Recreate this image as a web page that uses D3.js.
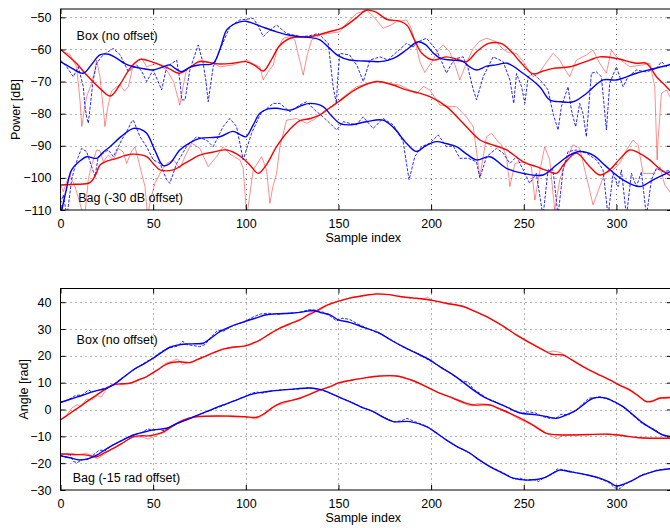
<!DOCTYPE html>
<html>
<head>
<meta charset="utf-8">
<script src="https://cdn.jsdelivr.net/npm/d3@7"></script>
<style>
    body { margin: 0; background: #fff; }
    svg { display: block; font-family: "Liberation Sans", Arial, Helvetica, sans-serif; }
</style>
</head>
<body>
<svg id="Chart"></svg>
<script>
            // x axis ticks are shared by both panels
            let sampleTicks = [0, 50, 100, 150, 200, 250, 300]
            let powerTicks = [-110, -100, -90, -80, -70, -60, -50]
            let angleTicks = [-30, -20, -10, 0, 10, 20, 30, 40]

            // ---- Power [dB], "Box" (no offset) ----
            let powerBoxRed = [[0,-60],[8,-64],[15,-68.5],[22,-72.5],[27,-74.5],[32,-71],[38,-65.5],[43,-63.1],[50,-64],[58,-65.8],[64,-67.4],[70,-65.5],[75,-63.8],[85,-64.5],[93,-64.3],[100,-63.8],[105,-65],[109.5,-66.7],[114,-63],[118,-59],[124,-56.5],[135,-56],[145,-54.5],[152,-53.3],[160,-50],[165,-47.8],[170,-48.3],[176,-50.6],[183,-51.2],[187,-52.5],[191,-57],[195,-61.2],[201,-63.3],[208,-62.3],[214,-63],[219,-63.8],[225,-60.5],[231,-58.1],[238,-58.2],[243,-60.5],[248,-63.8],[255,-67.6],[260,-66.8],[266,-65.9],[275,-65.4],[285.6,-63.3],[291,-62.3],[300,-62.8],[310.8,-64.3],[316.2,-64.3],[321.6,-68.5],[327,-71.6],[330,-73.5]]
            let powerBoxRedRaw = [[0,-60.2],[2.4,-61],[5,-61.5],[8.7,-65.4],[10.5,-75.7],[11.5,-84],[12.5,-80],[14.1,-74.7],[16.8,-70.5],[18.6,-66.4],[19.5,-63.3],[21.3,-68.5],[23,-78],[24,-84],[25.5,-78],[27.5,-73],[29.4,-72],[32.2,-71],[34.5,-73],[36.6,-71.6],[39.3,-64.8],[43.8,-62.8],[46.5,-65.4],[51.9,-64.3],[57.3,-66.4],[61,-70],[64.4,-77.3],[66,-72],[68,-66.4],[75.2,-63.3],[82.4,-64.3],[86,-65.4],[93.2,-64.8],[100.4,-63.3],[104,-64.5],[107.6,-65.4],[109.4,-69.5],[112,-67],[114.8,-64.8],[117,-60],[120.2,-56.5],[123.8,-56],[126.5,-57.1],[128.5,-62],[131,-68],[133,-62],[135.5,-57.1],[140,-55.5],[145,-55],[150.7,-54.5],[155,-51.5],[159.8,-48.8],[165.2,-47.7],[170,-50.5],[174.1,-53.4],[178,-52.5],[181.3,-51.4],[186.7,-50.8],[189,-53],[192.1,-59.2],[194,-64],[196.6,-67.2],[199,-65],[201,-63.3],[204,-60],[206.5,-58.6],[210,-60.7],[213,-65],[215.5,-69.5],[219,-64.3],[222.7,-59.7],[226,-57.5],[229.9,-56.5],[235.3,-57.6],[238.9,-60],[242,-61],[246,-61.2],[250,-64],[255,-68.5],[258,-67.5],[263.1,-63.3],[265.8,-61.2],[269.4,-63.3],[272,-66],[274.8,-68.5],[278.4,-63.3],[283.8,-61.7],[287.4,-60.2],[291,-64.3],[294.6,-67.4],[297.3,-60.2],[300,-62.3],[307.2,-65.4],[314.4,-64.8],[318,-64.3],[320.7,-71.6],[321.6,-88],[322,-94.4],[322.5,-88],[324.3,-73.7],[327,-72.6],[330,-76]]
            let powerBoxBlue = [[0,-63.8],[6,-65.8],[12.3,-67.4],[17,-64.5],[21.3,-61.7],[26,-61.5],[30.4,-62.8],[35,-64.5],[39.3,-65.4],[45,-66],[50,-66.4],[55,-65.5],[59,-64.8],[62,-66],[65.4,-66.9],[70,-65.5],[75.2,-64.8],[82.4,-64.3],[86,-60],[89.6,-54],[93,-52.3],[96.8,-51.4],[100,-51.2],[104,-51.9],[110,-53.2],[116.6,-54.5],[123,-55.5],[129.2,-56],[135,-56.3],[140,-57],[145,-59.5],[150,-62],[156,-63.3],[164,-63.6],[172.4,-63.8],[177,-63.3],[181.3,-62.3],[187,-60],[193,-57.6],[197,-58.5],[201,-61],[205,-62.8],[211,-63.3],[217.3,-63.8],[221,-65.5],[224.5,-66.4],[230,-65.2],[235,-64.8],[241,-64.3],[249.6,-67.4],[258.6,-71.6],[264,-75.7],[270,-76.3],[276.6,-76.3],[283.8,-73.7],[292.8,-69.5],[300,-69.5],[310.8,-67.4],[320,-66],[330,-64.6]]
            let powerBoxBlueRaw = [[0,-63.3],[3.3,-65.4],[6.9,-68.5],[9.6,-65.4],[12.3,-71.6],[13.2,-77.8],[14.1,-81],[15,-83],[16,-78],[17.5,-70],[19.5,-64.3],[23,-61.7],[28.5,-59.7],[32.2,-61.7],[36.6,-66.9],[41.1,-64.8],[44,-67],[46.5,-70],[50,-66.4],[54.6,-72.6],[57.3,-65.4],[62.7,-63.3],[64.5,-70],[65.4,-75.7],[67.2,-75.7],[69.8,-66.4],[74.3,-58.6],[77,-64.3],[78.5,-70],[79.7,-76.3],[82.4,-65.4],[86,-60.2],[91.4,-52.9],[96.8,-50.8],[100,-50.6],[104,-50.3],[107,-53],[109.4,-56],[112,-54.5],[116.6,-52.4],[122,-55],[129.2,-56],[134,-55.8],[139,-55],[144.5,-58.1],[147.1,-71.6],[148.9,-76.8],[149.5,-70],[150.7,-61.2],[156,-61.7],[160,-65],[163.4,-70],[167,-63.3],[172.4,-62.3],[176.9,-63.3],[179.6,-61.7],[183,-60],[186.7,-58.1],[190.3,-59.2],[193.5,-57.5],[197.5,-56.5],[202.9,-60.2],[205.5,-63.5],[208.3,-67.4],[211,-64.5],[213.7,-62.8],[217.3,-62.3],[220,-66],[222.5,-72],[224.5,-75.7],[228.1,-68.5],[233.5,-62.3],[238.9,-63.8],[242.5,-69.5],[244.6,-76.8],[246.1,-67.5],[248.8,-71.6],[250.6,-76.8],[252.4,-68.5],[255,-67.4],[260.4,-70.5],[263.1,-72.6],[265.8,-79.9],[268.5,-85.1],[270.3,-77.8],[273.9,-71.6],[275.7,-78.9],[278,-84.1],[280.2,-76.8],[282,-80],[283.8,-87.2],[286.5,-67.4],[289.2,-67],[291.9,-68.5],[294.6,-85.1],[296.4,-70.5],[300,-65.4],[303.6,-71.6],[306.3,-68.5],[310.8,-66.4],[316.2,-67],[321.6,-65.9],[324.3,-63.8],[327,-65.4],[330,-64]]

            // ---- Power [dB], "Bag" (-30 dB offset) ----
            let powerBagRed = [[0,-102.2],[8,-102],[15.9,-101.5],[19,-99],[21.3,-96],[25,-94.8],[30.4,-93.9],[35,-93],[39.3,-92.6],[46.5,-93.4],[50,-95.5],[53.7,-97.5],[60.9,-97.5],[67,-95.5],[75.2,-92.9],[82,-92],[89.6,-91.3],[95,-92.5],[99.5,-94.4],[103,-96.5],[106.7,-98.6],[111,-96],[116.6,-90.3],[122,-86],[129.2,-82.2],[135,-81.5],[140,-80.4],[145,-78.3],[150,-76.3],[160,-72.2],[170.5,-70],[179,-71],[186.7,-72.6],[193,-73.5],[199.3,-74.7],[208.3,-77.8],[217.3,-83],[226.3,-88.2],[232,-89.5],[240.7,-91.3],[249.7,-95],[256.8,-96.5],[263,-97.8],[267.6,-98.6],[272,-95.5],[278.4,-92.3],[285.6,-96.5],[291,-99.1],[296.4,-97.5],[302,-94],[307.2,-91.3],[312,-92.2],[318,-94.4],[323,-97],[330,-99.6]]
            let powerBagRedRaw = [[0,-102],[1.5,-104.3],[3.5,-101],[5.1,-99.1],[7.8,-102.7],[10.5,-107.9],[12.3,-112],[13.5,-109.5],[15,-100.6],[16.8,-96],[19.5,-91.3],[21.3,-91.6],[23.1,-95],[25.8,-92.9],[28.5,-94.4],[31.2,-90.8],[33.9,-92],[35.7,-95.5],[38.3,-91.8],[40.2,-90.3],[42.9,-96.5],[45.6,-102.7],[47,-112],[48.5,-107],[51,-101.7],[53.7,-98.6],[57.3,-95.5],[60.9,-94.4],[64.4,-97],[67.5,-93],[70.8,-89.2],[75.2,-90.8],[79.7,-96.5],[84.2,-93.4],[87.8,-90.3],[91.4,-92.6],[96.8,-94.4],[98.6,-97],[100.5,-112],[102,-106],[104,-97.5],[108.5,-93.4],[111.2,-97.5],[113,-107.9],[114.5,-103],[116.6,-98.6],[118.4,-90.3],[122,-82],[127.4,-81.5],[132.8,-83],[137.3,-81.7],[141.7,-79.4],[149,-76.8],[150.7,-75.7],[159.8,-71.6],[170.5,-70],[176,-70.5],[183,-71.1],[188,-72.5],[192.1,-73.7],[196,-71.5],[199.3,-72.6],[204.7,-77.3],[210,-77.8],[213.7,-77.8],[219,-81],[222.7,-84],[226.3,-99.6],[229.9,-87.2],[232.6,-86.1],[236.2,-88.8],[238,-89.7],[240.7,-93.4],[242.5,-102.7],[245.2,-95.5],[250.6,-95],[254.1,-96.5],[256,-106.9],[258.6,-98.1],[261.3,-90.3],[264,-94.4],[266.7,-110],[269.4,-100.6],[273,-94.4],[276.6,-89.7],[280.2,-90.8],[283.8,-99.6],[287.4,-108.4],[291,-102.7],[293.7,-98.6],[298.2,-97.5],[301.8,-95.5],[305.4,-91.3],[309,-88.2],[311.7,-89.7],[314.4,-98.6],[319.8,-98.6],[323.4,-96.5],[326.1,-102.2],[330,-105.3]]
            let powerBagBlue = [[0,-112],[3,-104],[6,-97.5],[10,-95],[14.1,-93.4],[19.5,-93.9],[23,-92],[26.7,-90.3],[33,-87],[39.3,-84.6],[43,-84.8],[46.5,-86.1],[51,-91.5],[55.4,-96.2],[59,-95.5],[64.4,-91.3],[70,-89],[75.2,-87.7],[86,-87.2],[93,-85.5],[97,-86.5],[100,-87.2],[104,-83.5],[107.6,-79.9],[112,-78.5],[116.6,-78.3],[123.8,-78.9],[130,-77.5],[134.6,-76.8],[141.7,-77.8],[146,-80.5],[150.7,-83],[156,-83.5],[165,-82.5],[174,-82],[180,-84.5],[186.7,-89.2],[192.1,-91.8],[197,-90],[202.9,-88.7],[208,-89.3],[213.7,-90.3],[219,-92.5],[224.5,-94.4],[231.7,-93.4],[240.7,-97],[249.7,-98.6],[260.4,-99.1],[267.6,-96],[274.8,-92.9],[280.2,-91.8],[287.4,-92.9],[294.6,-96.5],[303.6,-100.6],[312.6,-102.7],[319.8,-100.6],[330,-97.8]]
            let powerBagBlueRaw = [[0,-108],[1.5,-105.3],[3.5,-112],[6,-100.6],[7.8,-96.5],[9.6,-93.4],[11.4,-90.8],[14.1,-91.8],[16.8,-96.5],[18.6,-99.6],[20.4,-93.4],[23.1,-92.3],[25.8,-91.3],[28.5,-93.4],[33,-88.2],[35.7,-85.6],[38.4,-82.5],[39.3,-82],[42.9,-87.2],[46.5,-90.3],[50.1,-94.4],[53.7,-95.5],[57.3,-100.6],[59,-101.7],[62.7,-95.5],[68,-90.3],[73.4,-87.2],[78.8,-88.2],[82.4,-90.3],[87.8,-84],[91.4,-81.5],[95,-84],[98.6,-94.4],[103.1,-86.1],[108,-80],[114.8,-76.8],[118.4,-76.8],[123.8,-79.4],[129.2,-77.3],[132.8,-76.3],[137.3,-78.9],[141.7,-81],[146.3,-83.5],[149,-85.1],[152.6,-82.5],[156,-83],[159.6,-83.5],[163.3,-81],[168.7,-84.6],[174.1,-81.5],[179.6,-83.5],[184.9,-88.7],[188.1,-100.6],[191.2,-93.4],[194.8,-90.3],[199.3,-89.2],[203.8,-86.6],[208.3,-90.3],[211.9,-90],[215.5,-93.9],[220,-93.9],[224.5,-95],[226.3,-100],[229.9,-93.4],[235.3,-90.8],[238.9,-92.3],[242.5,-95.5],[246.1,-93.4],[249.7,-97.5],[253.2,-101.7],[256.8,-98.6],[260.4,-112],[263.1,-97.5],[265.8,-97.5],[268.5,-112],[271.2,-97.5],[273.9,-91.8],[278.4,-91.3],[283.8,-92.3],[289.2,-94.4],[292.8,-97.5],[295.5,-112],[298.2,-98.6],[300.9,-102.7],[302.7,-97.5],[305.4,-112],[308.1,-98.6],[310.8,-102.7],[313.5,-98.1],[316.2,-112],[318.9,-100.6],[321.6,-97],[325.2,-98.1],[330,-97.5]]

            // ---- Angle [rad], "Box" (no offset) ----
            let angleBoxRed = [[0,-3.9],[5,-1.5],[10.5,1.1],[15,3.3],[19.5,5.4],[24,7.5],[28.5,9.2],[33,9.6],[37.5,9.8],[42,11],[46.5,12.3],[52,14.6],[57.3,16.9],[61,17.6],[64.4,17.8],[69.9,17.5],[74,18.7],[78.8,20],[83,21.3],[87.8,22.5],[93,23.2],[99.5,23.7],[104,24.8],[107.6,25.9],[113,28.2],[118.4,30.3],[124,32],[129.2,33.4],[133,35],[137.3,36.5],[143,38.6],[149.8,40.3],[156,41.5],[163,42.4],[170.5,43.1],[177,42.8],[183,42.1],[190,41.6],[196.6,41.1],[202,40.5],[208.3,39.6],[217.3,38.4],[224,36.5],[231.7,34],[239,31],[246,27.8],[253,25],[260.4,22.2],[265,20.6],[271.2,20.3],[276,18.5],[282,16],[289,13.5],[296.4,11],[302,9],[307.2,7.3],[312,5],[316.2,2.9],[320,3.2],[323.3,4.2],[330,4.5]]
            let angleBoxRedRaw = [[0,-3.6],[3,-2.5],[6,0.5],[9,1.8],[11,1.2],[14,3.8],[17,3.6],[20,5.2],[22,4.6],[25,7.8],[28,9.5],[31,9.2],[35,9.4],[38,9.9],[42,11.2],[46,12],[49,13.4],[53,15.2],[57,17.3],[61,18.2],[63,18.8],[66,16.8],[68,17.2],[71,17.6],[75,18.9],[79,20.2],[84,21.5],[88,22.7],[93,23.3],[99,23.5],[103,24.2],[106,25.3],[109,26.4],[114,28.6],[118,30.2],[123,31.5],[128,33.3],[132,34.2],[135,36.4],[138,36.8],[141,37.5],[145,39.4],[150,40.5],[157,41.6],[164,42.4],[171,43],[177,42.9],[183,42.2],[190,41.4],[196,41.2],[198,41.8],[201,40.6],[208,39.4],[212,39],[217,38.6],[224,36.4],[232,33.8],[239,31.2],[246,27.6],[253,24.8],[259,22.6],[263,21.4],[266,21.8],[270,21.2],[274,19.2],[282,15.8],[289,13.6],[296,11.2],[302,8.8],[307,7.1],[312,4.8],[315,3.2],[318,3],[321,3.8],[324,4.6],[326,4],[330,4.6]]
            let angleBoxBlue = [[0,2.6],[6,4],[12.3,5.4],[17,6.6],[21.3,7.3],[25,8],[28.5,9.2],[34,12],[39.3,14.8],[45,17],[50,19.1],[55,21.5],[59,23.2],[63,24],[68,24.4],[73,24.5],[77,24.7],[81,26.5],[86,29],[92,31],[99.5,32.8],[105,34],[111.2,35.3],[117,35.7],[123.8,35.9],[130,36.3],[136.4,36.9],[141,36],[145.4,35.3],[150,33.4],[156,32.5],[164,30.5],[172.4,28.4],[178,26],[184.9,23.4],[192,21],[199.3,18.5],[205,15.8],[211.9,12.9],[217,10.3],[222.7,7.3],[227,5.3],[231.7,3.6],[240,1.2],[247.8,-1.2],[256.8,-2],[262,-2.6],[267.6,-3.3],[273,-2],[278.4,-0.2],[283,2.2],[287.4,4.2],[294.6,4.2],[299,2.8],[303.6,1.1],[309,-2],[314.4,-5.1],[320,-7.5],[325.1,-9.5],[330,-10.1]]
            let angleBoxBlueRaw = [[0,2.8],[4,3.5],[8,5.2],[12,5.5],[15,7.3],[17,6.5],[21,7.2],[25,8.2],[29,9.5],[34,12.2],[39,14.6],[44,16.8],[50,19.3],[55,21.8],[59,23],[63,23.6],[66,25.4],[68,24.2],[72,23.8],[75,23.4],[78,24.2],[81,26.8],[85,29.6],[88,29.2],[93,31.2],[99,32.6],[104,34.5],[108,35.6],[112,35.9],[117,35.5],[123,35.9],[129,36.2],[134,37.2],[138,37],[142,36.2],[146,34.6],[149,33],[152,34],[156,33.6],[160,32],[164,30.7],[172,28.3],[178,26.2],[185,23.2],[192,21.2],[199,18.3],[205,16],[212,12.7],[217,10.6],[220,10.2],[223,7.4],[226,6.2],[230,4.2],[235,2.8],[241,0.8],[246,-0.8],[249,-1.6],[252,-0.8],[256,-1.2],[260,-2.6],[264,-3.3],[268,-3],[270,-1.8],[274,-2],[278,-0.4],[282,2.2],[285,4.2],[288,4.4],[291,4.8],[294,4.2],[298,3.2],[303,1.2],[309,-2.2],[314,-5.3],[318,-6.6],[321,-7.6],[325,-9.7],[330,-10.3]]

            // ---- Angle [rad], "Bag" (-15 rad offset) ----
            let angleBagRed = [[0,-16.6],[7,-16.7],[14.1,-17],[19.5,-17.6],[24,-16],[28.5,-14.5],[34,-12.3],[39.3,-10.1],[44,-9.8],[48.3,-9.8],[52,-9.2],[55.5,-8.3],[60,-6.4],[64.4,-4.5],[69,-3.3],[73.4,-2.7],[84.2,-2.4],[92,-2.5],[99.5,-2.7],[105.8,-2.9],[110,-1.5],[114,0.5],[118.4,2.3],[124,3.3],[129.2,4.2],[135,5.8],[140,7.3],[145.4,8.5],[150,9.9],[157.9,11],[165,11.9],[172.4,12.5],[181.3,12.5],[190,10.8],[199.3,7.9],[205,6],[211.9,4.2],[217,2.8],[222.7,1.7],[231.7,1.7],[237,0.2],[242.5,-1.4],[248,-3.2],[253.2,-5.1],[258,-7.2],[262.2,-8.9],[268,-9.4],[275.7,-9.5],[285,-9.3],[295.5,-9.2],[301,-9.5],[307.2,-10.1],[312,-10.5],[318,-10.7],[330,-10.7]]
            let angleBagRedRaw = [[0,-16.8],[4,-16.5],[7,-17.2],[11,-16.6],[14,-16.3],[17,-17.4],[20,-18.3],[24,-16.5],[28,-14.6],[33,-12.6],[39,-10.3],[44,-10.2],[47,-11],[50,-10.3],[53,-9.2],[56,-8.6],[60,-6.5],[64,-4.8],[69,-3.1],[74,-2.6],[84,-2.5],[92,-2.4],[99,-2.6],[102,-2.9],[105,-3.6],[108,-2.7],[111,-1.3],[114,0.8],[116,1.6],[119,1.9],[124,3.2],[129,4.3],[135,5.7],[140,7.2],[145,8.4],[150,9.8],[158,11.2],[165,11.8],[172,12.4],[181,12.6],[190,10.9],[199,7.8],[205,6],[212,4.2],[217,2.4],[221,1.4],[225,2.2],[230,2],[233,1.6],[237,0.4],[242,-1.2],[247,-3.4],[253,-5.3],[258,-6.8],[262,-8.8],[265,-9.8],[268,-11],[271,-9.6],[276,-9.3],[285,-9.4],[295,-9.1],[301,-9.6],[307,-10.1],[312,-10.4],[318,-10.8],[330,-10.7]]
            let angleBagBlue = [[0,-17.3],[5,-18],[10.5,-18.8],[15,-18.3],[19.5,-17],[24,-15],[28.5,-13.2],[34,-11.2],[39.3,-9.5],[45,-8.4],[50,-7.6],[57.3,-7],[62,-5.5],[68,-3.9],[73,-2.4],[78.8,-0.8],[83,0.4],[87.8,1.7],[93,3],[99.5,4.8],[104,5.8],[107.6,6.3],[113,6.8],[120.2,7.3],[127,7.7],[134.6,8],[140,7.5],[143.6,6.7],[149.8,4.8],[156,2.9],[162,1],[168.8,-0.8],[174,-2.8],[179.6,-4.5],[188.6,-4.5],[197.5,-6.4],[203,-8.8],[208.3,-11.4],[214,-13.8],[220.9,-16.3],[226,-18.8],[231.7,-21.3],[238,-23.5],[244.3,-25.6],[253.2,-26.3],[260.4,-25.6],[265,-24],[269.4,-22.6],[275,-23.2],[280.2,-23.8],[286,-24.7],[291,-25.6],[296,-27],[300,-28.5],[304,-27.8],[307.2,-26.9],[314.4,-24.4],[318,-23.5],[323.3,-22.6],[330,-22]]
            let angleBagBlueRaw = [[0,-17],[3,-17.8],[5,-16.8],[7,-19.4],[9,-19.8],[12,-18.6],[15,-18.7],[18,-16.8],[21,-15.1],[24,-15.4],[28,-13.3],[33,-11.6],[39,-9.6],[44,-8.6],[47,-7.2],[50,-7.8],[53,-7.4],[56,-7.9],[58,-6.9],[62,-5.6],[68,-3.8],[73,-2.5],[79,-0.7],[84,0.5],[88,1.5],[93,3.1],[99,4.6],[103,6],[106,6.5],[109,6.1],[113,6.9],[120,7.4],[127,7.6],[134,8.1],[140,7.4],[144,6.6],[150,4.7],[156,3],[162,1.1],[169,-0.9],[175,-3],[180,-4.6],[184,-4.2],[187,-3.3],[190,-4.2],[193,-5],[198,-6.3],[203,-8.9],[208,-11.2],[214,-13.9],[221,-16.2],[226,-18.9],[232,-21.4],[238,-23.3],[242,-24.8],[245,-26],[248,-25.6],[251,-26.4],[255,-26],[258,-26.8],[261,-25.4],[265,-24.2],[268,-22.2],[271,-22.4],[275,-23],[280,-23.9],[286,-24.6],[291,-25.8],[296,-27.2],[299,-29.2],[302,-29.4],[305,-27.6],[308,-26.8],[312,-25],[315,-24],[318,-23.6],[322,-22.5],[325,-22.4],[330,-21.9]]

            function getChartConfig() {
                let width = 670;
                let height = 528;
                let container = d3.select('#Chart')
                container
                    .attr("width", width)
                    .attr("height", height)

                // x range runs slightly past the window, the reference is cropped there
                let xScale = d3
                    .scaleLinear()
                    .domain([0, 330])
                    .range([60.5, 672])

                return {width, height, container, xScale}
            }

            function drawPanel(config, panel) {
                let {container, xScale} = config
                let [x0, x1] = xScale.range()
                let yScale = d3
                    .scaleLinear()
                    .domain(panel.yDomain)
                    .range([panel.bottom, panel.top])

                let g = container.append("g")

                // dotted grid
                g.selectAll(".vgrid")
                    .data(sampleTicks.filter(t => t > 0))
                    .enter()
                    .append("line")
                    .attr("x1", d => Math.round(xScale(d)) + 0.5)
                    .attr("x2", d => Math.round(xScale(d)) + 0.5)
                    .attr("y1", panel.top)
                    .attr("y2", panel.bottom)
                    .attr("stroke", "#666")
                    .attr("stroke-dasharray", "1,4")
                g.selectAll(".hgrid")
                    .data(panel.yTicks.filter(t => t > panel.yDomain[0]))
                    .enter()
                    .append("line")
                    .attr("x1", x0)
                    .attr("x2", x1)
                    .attr("y1", d => Math.round(yScale(d)) + 0.5)
                    .attr("y2", d => Math.round(yScale(d)) + 0.5)
                    .attr("stroke", "#666")
                    .attr("stroke-dasharray", "1,4")

                // clip the curves to the axes box
                container.append("clipPath")
                    .attr("id", panel.id + "Clip")
                    .append("rect")
                    .attr("x", x0)
                    .attr("y", panel.top)
                    .attr("width", x1 - x0)
                    .attr("height", panel.bottom - panel.top)

                let lines = g.append("g").attr("clip-path", `url(#${panel.id}Clip)`)
                let rawLine = d3.line()
                    .x(d => xScale(d[0]))
                    .y(d => yScale(d[1]))
                let smoothLine = d3.line()
                    .x(d => xScale(d[0]))
                    .y(d => yScale(d[1]))
                    .curve(d3.curveCatmullRom.alpha(0.5))

                panel.raw.forEach(s => {
                    lines.append("path")
                        .attr("d", rawLine(s.data))
                        .attr("fill", "none")
                        .attr("stroke", s.color)
                        .attr("stroke-width", 1)
                        .attr("stroke-opacity", s.color == "red" ? 0.45 : 0.85)
                        .attr("stroke-dasharray", s.color == "red" ? null : "3,1.5")
                })
                panel.smooth.forEach(s => {
                    lines.append("path")
                        .attr("d", smoothLine(s.data))
                        .attr("fill", "none")
                        .attr("stroke", s.color)
                        .attr("stroke-width", 1.4)
                })

                // axes box with inward ticks on all four sides
                g.append("rect")
                    .attr("x", x0)
                    .attr("y", panel.top)
                    .attr("width", x1 - x0)
                    .attr("height", panel.bottom - panel.top)
                    .attr("fill", "none")
                    .attr("stroke", "#000")

                let axisBottom = d3.axisBottom(xScale).tickValues(sampleTicks).tickSizeInner(-5).tickSizeOuter(0).tickPadding(9)
                let axisTop = d3.axisTop(xScale).tickValues(sampleTicks).tickSizeInner(-5).tickSizeOuter(0).tickFormat("")
                let axisLeft = d3.axisLeft(yScale).tickValues(panel.yTicks).tickSizeInner(-5).tickSizeOuter(0).tickPadding(9)
                let axisRight = d3.axisRight(yScale).tickValues(panel.yTicks).tickSizeInner(-5).tickSizeOuter(0).tickFormat("")

                let axes = [
                    g.append("g").attr("transform", `translate(0,${panel.bottom})`).call(axisBottom),
                    g.append("g").attr("transform", `translate(0,${panel.top})`).call(axisTop),
                    g.append("g").attr("transform", `translate(${x0},0)`).call(axisLeft),
                    g.append("g").attr("transform", `translate(${x1},0)`).call(axisRight)
                ]
                axes.forEach(a => {
                    a.select(".domain").remove()
                    a.selectAll("text")
                        .attr("fill", "#000")
                        .style("font-size", "12.5px")
                        .style("font-family", '"Liberation Sans", Arial, sans-serif')
                })

                g.append("text")
                    .attr("x", (x0 + 670) / 2 - 2)
                    .attr("y", panel.bottom + 32)
                    .attr("text-anchor", "middle")
                    .style("font-size", "12.5px")
                    .text("Sample index")

                g.append("text")
                    .attr("transform", `translate(${panel.labelX},${(panel.top + panel.bottom) / 2}) rotate(-90)`)
                    .attr("text-anchor", "middle")
                    .style("font-size", "12.5px")
                    .text(panel.label)

                panel.notes.forEach(n => {
                    g.append("text")
                        .attr("x", xScale(n.x))
                        .attr("y", yScale(n.y))
                        .style("font-size", "12.5px")
                        .text(n.text)
                })
            }

            function showData() {
                let config = getChartConfig()
                drawPanel(config, {
                    id: "power",
                    top: 9,
                    bottom: 210,
                    yDomain: [-110, -47.4],
                    yTicks: powerTicks,
                    label: "Power [dB]",
                    labelX: 19.5,
                    raw: [{data: powerBoxRedRaw, color: "red"}, {data: powerBagRedRaw, color: "red"},
                          {data: powerBoxBlueRaw, color: "blue"}, {data: powerBagBlueRaw, color: "blue"}],
                    smooth: [{data: powerBoxRed, color: "red"}, {data: powerBagRed, color: "red"},
                             {data: powerBoxBlue, color: "blue"}, {data: powerBagBlue, color: "blue"}],
                    notes: [{x: 8.7, y: -57.1, text: "Box (no offset)"},
                            {x: 9.6, y: -107.4, text: "Bag (-30 dB offset)"}]
                })
                drawPanel(config, {
                    id: "angle",
                    top: 288.5,
                    bottom: 490,
                    yDomain: [-30, 45.1],
                    yTicks: angleTicks,
                    label: "Angle [rad]",
                    labelX: 28,
                    raw: [{data: angleBoxRedRaw, color: "red"}, {data: angleBagRedRaw, color: "red"},
                          {data: angleBoxBlueRaw, color: "blue"}, {data: angleBagBlueRaw, color: "blue"}],
                    smooth: [{data: angleBoxRed, color: "red"}, {data: angleBagRed, color: "red"},
                             {data: angleBoxBlue, color: "blue"}, {data: angleBagBlue, color: "blue"}],
                    notes: [{x: 8.7, y: 24.4, text: "Box (no offset)"},
                            {x: 6.6, y: -27.1, text: "Bag (-15 rad offset)"}]
                })
            }

            showData()
        </script>
</body>
</html>
